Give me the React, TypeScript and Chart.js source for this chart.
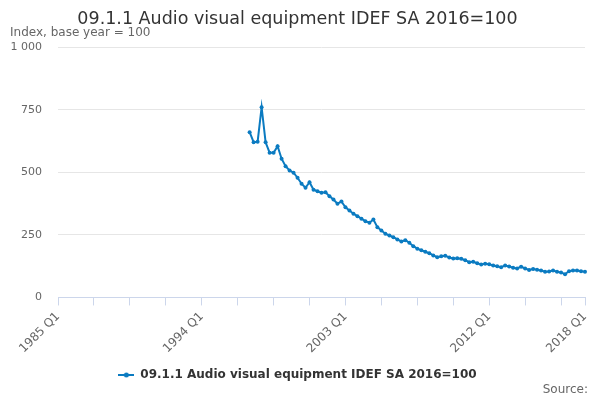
import React, { useEffect, useRef } from "react";
import { Chart, registerables } from "chart.js";

Chart.register(...registerables);

const TITLE = "09.1.1 Audio visual equipment IDEF SA 2016=100";
const SUBTITLE = "Index, base year = 100";
const SERIES_NAME = "09.1.1 Audio visual equipment IDEF SA 2016=100";
const SOURCE = "Source:";

const FIRST_YEAR = 1985;
const LAST_YEAR = 2018;
const DATA_START = "1997 Q1";

// quarterly values, 1997 Q1 .. 2018 Q1
const values: number[] = [
  661, 621, 623, 761, 621, 579, 579, 605, 555, 525,
  508, 499, 479, 455, 439, 461, 431, 425, 419, 421,
  405, 392, 375, 384, 361, 348, 335, 325, 315, 305,
  299, 312, 281, 268, 255, 248, 241, 232, 224, 229,
  219, 205, 195, 189, 183, 177, 168, 161, 165, 167,
  160, 156, 157, 155, 149, 141, 143, 137, 132, 135,
  133, 128, 125, 121, 128, 124, 119, 116, 123, 116,
  110, 114, 111, 108, 103, 104, 108, 103, 100, 93,
  105, 108, 108, 105, 103,
];

const yTicks: number[] = [0, 250, 500, 750, 1000];

const categories: string[] = [];
for (let y = FIRST_YEAR; y <= LAST_YEAR; y++) {
  for (let q = 1; q <= 4; q++) {
    if (y === LAST_YEAR && q > 1) break;
    categories.push(`${y} Q${q}`);
  }
}
const startIdx = categories.indexOf(DATA_START);
const seriesData: (number | null)[] = categories.map((_, i) =>
  i >= startIdx && i - startIdx < values.length ? values[i - startIdx] : null
);

const COLOR = "#0b7bc1";
const FONT = "'DejaVu Sans', sans-serif";

export default function App() {
  const ref = useRef<HTMLCanvasElement | null>(null);

  useEffect(() => {
    if (!ref.current) return;
    document.body.style.margin = "0";

    const sym = document.createElement("canvas");
    sym.width = 16;
    sym.height = 8;
    const sc = sym.getContext("2d")!;
    sc.strokeStyle = COLOR;
    sc.lineWidth = 2;
    sc.beginPath();
    sc.moveTo(0, 4);
    sc.lineTo(16, 4);
    sc.stroke();
    sc.fillStyle = COLOR;
    sc.beginPath();
    sc.arc(8, 4, 2.5, 0, Math.PI * 2);
    sc.fill();

    const last = categories.length - 1;

    const sourcePlugin = {
      id: "sourceText",
      afterDraw(chart: any) {
        const ctx = chart.ctx;
        ctx.save();
        ctx.font = `12px ${FONT}`;
        ctx.fillStyle = "#666666";
        ctx.textAlign = "right";
        ctx.textBaseline = "middle";
        ctx.fillText(SOURCE, 588, 390);
        ctx.restore();
      },
    };

    const chart = new Chart(ref.current, {
      type: "line",
      data: {
        labels: categories,
        datasets: [
          {
            label: SERIES_NAME,
            data: seriesData,
            borderColor: COLOR,
            backgroundColor: COLOR,
            borderWidth: 2,
            pointRadius: 2,
            pointHoverRadius: 2,
            pointBorderWidth: 0,
            pointBackgroundColor: COLOR,
            tension: 0,
            spanGaps: false,
          },
        ],
      },
      options: {
        animation: false,
        responsive: true,
        maintainAspectRatio: false,
        layout: { padding: { left: 10, right: 15, top: 0, bottom: 9 } },
        plugins: {
          title: {
            display: true,
            text: TITLE,
            color: "#333333",
            font: { family: FONT, size: 17.5, weight: "normal", lineHeight: 1 },
            padding: { top: 11, bottom: -2 },
          },
          subtitle: {
            display: true,
            text: SUBTITLE,
            align: "start",
            color: "#666666",
            font: { family: FONT, size: 12, weight: "normal", lineHeight: 1 },
            padding: { top: 0, bottom: 9 },
          },
          legend: {
            display: true,
            position: "bottom",
            labels: {
              color: "#333333",
              font: { family: FONT, size: 12, weight: "bold" },
              usePointStyle: true,
              pointStyleWidth: 16,
              padding: 9,
              generateLabels: (c: any) =>
                Chart.defaults.plugins.legend.labels
                  .generateLabels(c)
                  .map((l: any) => ({ ...l, pointStyle: sym })),
            },
          },
          tooltip: { enabled: false },
        },
        scales: {
          x: {
            type: "category",
            offset: false,
            afterBuildTicks: (scale: any) => {
              scale.ticks = scale.ticks.filter(
                (t: any) => t.value % 9 === 0 || t.value === last
              );
            },
            afterFit: (scale: any) => {
              scale.paddingLeft = 0;
              scale.paddingRight = 0;
              if (scale._margins) {
                scale._margins.left = 0;
                scale._margins.right = 0;
              }
              scale.getPadding = () => ({ left: 0, right: 0, top: 0, bottom: 0 });
            },
            ticks: {
              autoSkip: false,
              minRotation: 45,
              maxRotation: 45,
              color: "#666666",
              font: { family: FONT, size: 12 },
              padding: 4,
              callback: function (this: any, value: any) {
                const v = Number(value);
                return v % 36 === 0 || v === last ? categories[v] : "";
              },
            },
            grid: {
              display: true,
              drawOnChartArea: false,
              drawTicks: true,
              tickLength: 8,
              color: "#ccd6eb",
            },
            border: { display: true, color: "#ccd6eb", width: 1 },
          },
          y: {
            min: 0,
            max: 1000,
            afterBuildTicks: (scale: any) => {
              scale.ticks = yTicks.map((v) => ({ value: v }));
            },
            afterFit: (scale: any) => {
              scale.width = 48;
            },
            ticks: {
              color: "#666666",
              font: { family: FONT, size: 11 },
              padding: 16,
              callback: (v: any) =>
                String(v).replace(/\B(?=(\d{3})+(?!\d))/g, " "),
            },
            grid: { color: "#e6e6e6", drawTicks: false },
            border: { display: false },
          },
        },
      },
      plugins: [sourcePlugin],
    });

    return () => chart.destroy();
  }, []);

  return (
    <div style={{ position: "fixed", left: 0, top: 0, width: 600, height: 400, background: "#fff" }}>
      <canvas ref={ref} />
    </div>
  );
}
